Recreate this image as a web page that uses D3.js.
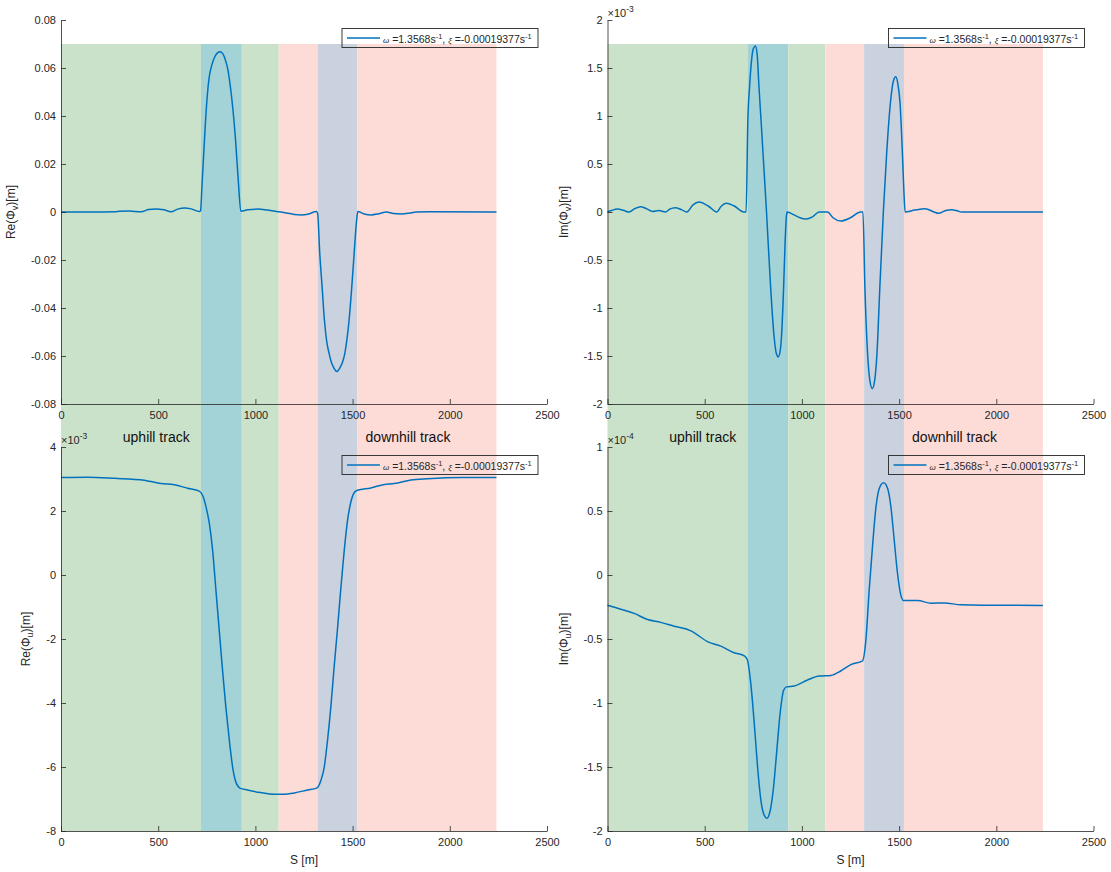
<!DOCTYPE html>
<html><head><meta charset="utf-8">
<script src="https://cdn.jsdelivr.net/npm/d3@7"></script>
<style>
body{margin:0;background:#fff}
text{font-family:"Liberation Sans",Arial,Helvetica,sans-serif;fill:#262626}
</style>
</head><body>
<svg id="chart" width="1111" height="872"></svg>
<script>
// ---------- data ----------
const xTicks = [0, 500, 1000, 1500, 2000, 2500];
const xTickLabels = ["0", "500", "1000", "1500", "2000", "2500"];

// track sections: [start, end, kind]
const sectionStart = [0, 720, 930, 1120, 1320, 1525];
const sectionEnd   = [720, 930, 1120, 1320, 1525, 2240];
const sectionKind  = ["green", "teal", "green", "pink", "lavender", "pink"];

const annotationText = ["uphill track", "downhill track"];
const annotationS = [490, 1785];

// Re(Phi_v) [m]
const reV = [[0,0],[150,0],[280,0.0001],[300,0.0003],[350,0.0004],[412,0.0001],[450,0.0010],[489,0.0013],[530,0.0009],[566,0.0001],[600,0.0012],[635,0.0017],[670,0.0013],[712,0.0002],
[718,0.0006],[725,0.0105],[740,0.033],[752,0.048],[762,0.056],[775,0.061],[790,0.0645],[805,0.0663],[818,0.0668],[832,0.066],[845,0.0635],[858,0.0595],[870,0.053],[884,0.043],[897,0.031],[912,0.013],[925,0.0003],
[960,0.0009],[1012,0.0012],[1060,0.0008],[1115,0.0001],[1130,0.0000],[1160,-0.0004],[1200,-0.0010],[1235,-0.0012],[1275,-0.0008],[1313,0.0002],
[1320,-0.0005],[1331,-0.0172],[1343,-0.031],[1355,-0.045],[1367,-0.054],[1379,-0.0589],[1390,-0.0624],[1400,-0.0644],[1410,-0.0658],[1419,-0.0665],[1428,-0.0658],[1438,-0.0644],[1449,-0.0624],[1460,-0.0589],[1471,-0.053],[1482,-0.045],[1496,-0.031],[1508,-0.0172],[1520,-0.004],[1527,0.0002],
[1560,-0.0008],[1596,-0.0012],[1635,-0.0007],[1673,0.0000],[1710,-0.0006],[1750,-0.0008],[1790,-0.0005],[1827,0.0000],[1900,0.0001],[2240,0.0000]];

// Im(Phi_v) [m] x 1e-3
const imV = [[0,0.0],[20,0.015],[51,0.031],[85,0.015],[111,0.0],[140,0.035],[170,0.055],[200,0.035],[232,0.005],[264,0.015],[298,0.0],[320,0.03],[349,0.045],[380,0.025],[408,0.0],[440,0.075],[470,0.104],[520,0.06],[562,0.0],[585,0.06],[610,0.09],[650,0.065],[701,0.0],[713,0.0],
[722,0.96],[731,1.31],[741,1.58],[750,1.70],[761,1.73],[770,1.64],[779,1.31],[790,0.95],[800,0.61],[818,0.0],[839,-0.78],[857,-1.30],[868,-1.47],[878,-1.51],[888,-1.45],[895,-1.30],[906,-0.78],[913,-0.35],[920,-0.05],[924,0.0],
[960,-0.03],[990,-0.06],[1021,-0.073],[1055,-0.05],[1089,0.0],[1132,0.0],[1160,-0.06],[1200,-0.094],[1250,-0.06],[1302,0.0],[1314,0.0],
[1324,-0.78],[1338,-1.48],[1350,-1.76],[1362,-1.84],[1374,-1.76],[1386,-1.48],[1401,-0.78],[1419,0.0],[1436,0.61],[1455,1.13],[1470,1.36],[1483,1.41],[1494,1.33],[1505,1.13],[1517,0.61],[1525,0.2],[1531,0.0],
[1580,0.02],[1634,0.035],[1680,0.0],[1702,-0.014],[1740,0.015],[1770,0.024],[1800,0.012],[1821,0.0],[2240,0.0]];

// Re(Phi_u) [m] x 1e-3
const reU = [[0,3.045],[137,3.055],[274,3.02],[428,2.96],[454,2.93],[514,2.86],[583,2.82],[651,2.71],[711,2.62],[728,2.49],[746,2.13],[763,1.61],[780,0.77],[797,-0.48],[814,-1.73],[831,-2.98],[848,-4.13],[866,-5.17],[883,-6.01],[900,-6.48],[920,-6.66],[960,-6.72],[1028,-6.80],[1097,-6.85],[1148,-6.85],[1200,-6.81],[1268,-6.72],[1315,-6.66],[1337,-6.42],[1354,-6.01],[1371,-5.17],[1388,-4.13],[1405,-2.88],[1423,-1.63],[1440,-0.38],[1457,0.77],[1474,1.71],[1491,2.28],[1508,2.57],[1525,2.65],[1594,2.72],[1663,2.83],[1714,2.86],[1800,2.97],[1885,3.01],[2057,3.05],[2240,3.045]];

// Im(Phi_u) [m] x 1e-4
const imU = [[0,-0.236],[69,-0.267],[137,-0.30],[206,-0.348],[274,-0.37],[343,-0.40],[429,-0.436],[514,-0.52],[583,-0.556],[651,-0.607],[706,-0.633],[720,-0.665],[737,-0.847],[755,-1.16],[772,-1.50],[789,-1.76],[806,-1.876],[820,-1.90],[837,-1.84],[854,-1.66],[871,-1.37],[888,-1.08],[906,-0.90],[921,-0.874],[960,-0.868],[1029,-0.82],[1089,-0.79],[1149,-0.785],[1200,-0.75],[1252,-0.70],[1312,-0.67],[1329,-0.51],[1346,-0.12],[1363,0.22],[1381,0.53],[1398,0.675],[1420,0.72],[1441,0.675],[1458,0.53],[1475,0.27],[1492,0.01],[1509,-0.157],[1523,-0.20],[1595,-0.20],[1664,-0.22],[1732,-0.218],[1818,-0.233],[1972,-0.236],[2240,-0.238]];

const reVTicks = [-0.08,-0.06,-0.04,-0.02,0,0.02,0.04,0.06,0.08];
const reVTickLabels = ["-0.08","-0.06","-0.04","-0.02","0","0.02","0.04","0.06","0.08"];
const imVTicks = [-2,-1.5,-1,-0.5,0,0.5,1,1.5,2];
const imVTickLabels = ["-2","-1.5","-1","-0.5","0","0.5","1","1.5","2"];
const reUTicks = [-8,-6,-4,-2,0,2,4];
const reUTickLabels = ["-8","-6","-4","-2","0","2","4"];
const imUTicks = [-2,-1.5,-1,-0.5,0,0.5,1];
const imUTickLabels = ["-2","-1.5","-1","-0.5","0","0.5","1"];

const legendOmega = "1.3568";
const legendXi = "-0.00019377";

// ---------- layout ----------
const colColors = {green:"#cbe2ca", teal:"#a3d3d6", pink:"#fddcd8", lavender:"#cad2e0"};
const cols = [[61, 547], [607.5, 1093.5]];
const rows = [[20, 404], [447, 831]];
const lineColor = "#0072bd";
const axisColor = "#262626";

const panels = [
  {col:0,row:0,data:reV,domain:[-0.08,0.08],ticks:reVTicks,labels:reVTickLabels,yl:["Re(Φ","v",")[m]"],exp:null,shadeTop:0.07,xlabel:false,ylx:15},
  {col:1,row:0,data:imV,domain:[-2,2],ticks:imVTicks,labels:imVTickLabels,yl:["Im(Φ","v",")[m]"],exp:"-3",shadeTop:1.75,xlabel:false,ylx:568},
  {col:0,row:1,data:reU,domain:[-8,4],ticks:reUTicks,labels:reUTickLabels,yl:["Re(Φ","u",")[m]"],exp:"-3",xlabel:true,ylx:30,annot:true},
  {col:1,row:1,data:imU,domain:[-2,1],ticks:imUTicks,labels:imUTickLabels,yl:["Im(Φ","u",")[m]"],exp:"-4",xlabel:true,ylx:568,annot:true}
];

const svg = d3.select("#chart");
svg.append("rect").attr("width",1111).attr("height",872).attr("fill","#fff");

panels.forEach(p => {
  p.x = d3.scaleLinear().domain([0,2500]).range(cols[p.col]);
  p.y = d3.scaleLinear().domain(p.domain).range([rows[p.row][1], rows[p.row][0]]);
});

// shading columns (top panel shade level down to bottom panel bottom)
[0,1].forEach(c => {
  const top = panels.find(p => p.col===c && p.row===0);
  const bot = panels.find(p => p.col===c && p.row===1);
  const y0 = top.y(top.shadeTop), y1 = bot.y(bot.domain[0]);
  svg.append("g").selectAll("rect").data(sectionStart).join("rect")
    .attr("x", (d,i) => top.x(d))
    .attr("width", (d,i) => top.x(sectionEnd[i]) - top.x(d))
    .attr("y", y0).attr("height", y1 - y0)
    .attr("fill", (d,i) => colColors[sectionKind[i]]);
});

panels.forEach(p => {
  const g = svg.append("g");
  const [xl, xr] = cols[p.col];
  const [yt, yb] = rows[p.row];

  // curve
  const line = d3.line().x(d => p.x(d[0])).y(d => p.y(d[1])).curve(d3.curveMonotoneX);
  g.append("path").datum(p.data).attr("d", line)
    .attr("fill","none").attr("stroke",lineColor).attr("stroke-width",1.5).attr("stroke-linejoin","round");

  // axes
  const ax = g.append("g").attr("transform",`translate(0,${yb})`)
    .call(d3.axisBottom(p.x).tickValues(xTicks).tickFormat((d,i)=>xTickLabels[i]).tickSizeInner(-5).tickSizeOuter(0).tickPadding(7.5));
  const ay = g.append("g").attr("transform",`translate(${xl},0)`)
    .call(d3.axisLeft(p.y).tickValues(p.ticks).tickFormat((d,i)=>p.labels[i]).tickSizeInner(-5).tickSizeOuter(0).tickPadding(5));
  [ax, ay].forEach(a => {
    a.selectAll("path,line").attr("stroke",axisColor).attr("stroke-width",0.8);
    a.selectAll("text").attr("fill",axisColor).style("font-size","11px").style("font-family","'Liberation Sans',Arial,sans-serif");
  });

  // y label
  const yl = g.append("text").attr("transform",`translate(${p.ylx},${(yt+yb)/2}) rotate(-90)`)
    .attr("text-anchor","middle").style("font-size","12px");
  yl.append("tspan").text(p.yl[0]);
  yl.append("tspan").text(p.yl[1]).style("font-size","9px").attr("dy",3);
  yl.append("tspan").text(p.yl[2]).attr("dy",-3);

  if (p.xlabel) {
    g.append("text").attr("x",(xl+xr)/2).attr("y",yb+33).attr("text-anchor","middle")
      .style("font-size","12px").text("S [m]");
  }

  // exponent
  if (p.exp) {
    const t = g.append("text").attr("x",xl).attr("y",yt-3).style("font-size","11px");
    t.append("tspan").text("×10");
    t.append("tspan").text(p.exp).style("font-size","8.5px").attr("dy",-5);
  }

  // annotations
  if (p.annot) {
    annotationText.forEach((s,i) => {
      g.append("text").attr("x",p.x(annotationS[i])).attr("y",yt-5).attr("text-anchor","middle")
        .style("font-size","14px").style("fill","#111").text(s);
    });
  }

  // legend
  const lw = 196, lh = 19;
  const lx = xr - 9 - lw, ly = yt + 8.5;
  const lg = g.append("g");
  lg.append("rect").attr("x",lx).attr("y",ly).attr("width",lw).attr("height",lh)
    .attr("fill","none").attr("stroke",axisColor).attr("stroke-width",0.9);
  lg.append("line").attr("x1",lx+5).attr("x2",lx+38).attr("y1",ly+lh/2).attr("y2",ly+lh/2)
    .attr("stroke",lineColor).attr("stroke-width",1.5);
  const lt = lg.append("text").attr("x",lx+41).attr("y",ly+lh/2+5).style("font-size","10.5px");
  lt.append("tspan").text("ω").style("font-style","italic").style("font-size","8px");
  lt.append("tspan").text(" =" + legendOmega + "s");
  lt.append("tspan").text("-1").style("font-size","7.5px").attr("dy",-4);
  lt.append("tspan").text(", ").attr("dy",4);
  lt.append("tspan").text("ξ").style("font-style","italic").style("font-size","8px");
  lt.append("tspan").text(" =" + legendXi + "s");
  lt.append("tspan").text("-1").style("font-size","7.5px").attr("dy",-4);
});
</script>
</body></html>
